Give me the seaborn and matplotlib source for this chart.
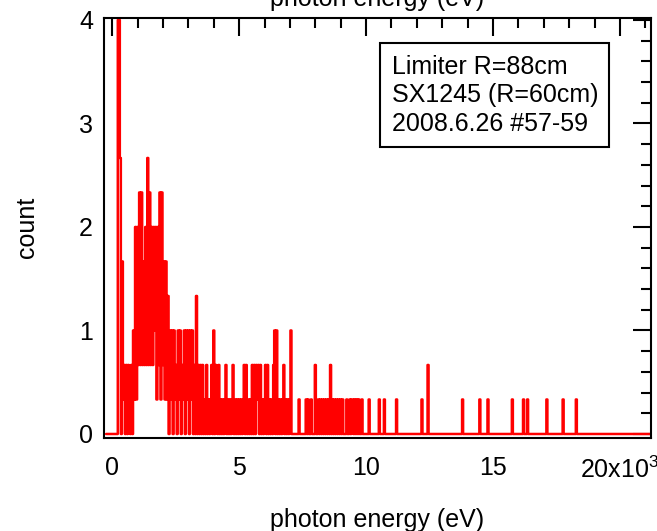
import numpy as np
import pandas as pd
import matplotlib
matplotlib.use("Agg")
import matplotlib.pyplot as plt
import seaborn as sns
from matplotlib.ticker import MultipleLocator

# ---------------- data (counts in units of 1/3) ----------------
bin_width_ev = 40
first_center_ev = -240
n_bins = 537

counts_peak = [0, 0, 0, 0, 0, 0, 0, 0, 0, 0, 0, 0,
               12, 12, 8, 0, 5, 1, 2, 0, 2, 0, 2, 1, 0, 2, 0, 3, 1, 6,
               1, 6, 2, 7, 2, 7, 2, 5, 2, 6, 2, 8, 2, 7, 2, 6, 2, 6, 3, 6,
               1, 6, 2, 7, 1, 7, 2, 5, 1, 5, 1]
counts_shoulder = [4, 0, 3, 1, 3, 0, 3, 1, 2, 0, 3, 1, 3, 0, 2, 1, 3, 0, 3, 1,
                   3, 0, 3, 1, 3, 0, 2, 0, 4, 0]
counts_plateau = [2, 0, 2, 0, 2, 0, 1, 0, 2, 0, 1, 0, 1, 2, 0, 3, 0, 2, 1, 0,
                  2, 0, 1, 0, 1, 0, 1, 2, 0, 1, 0, 1, 0, 1, 2, 0, 1, 0, 1, 0,
                  1, 0, 1, 0, 1, 2, 0, 2, 0, 1, 0, 1, 0, 2, 0, 2, 0, 2, 1, 2,
                  0, 2, 0, 1, 0, 1, 2, 0, 2, 0, 1, 0, 1, 0, 2, 3, 0, 3, 0, 1,
                  0, 1, 0, 1, 2, 0, 1, 0, 1, 0, 1, 3, 0]
counts_tail = [0, 0, 0, 0, 0, 0, 1, 0, 0, 0, 0, 0, 0,
               1, 0, 1, 0, 0, 1, 0, 0, 0, 2, 0, 0,
               1, 0, 1, 0, 1, 0, 1, 0, 1, 0, 1, 0, 2, 0, 1, 0, 1, 0, 1, 0,
               1, 0, 1, 0, 1, 0,
               0, 0, 1, 0, 0, 1, 0, 1, 1, 0, 1, 0, 1, 0, 1, 0, 0, 1, 0]
spike_energy_ev = [10118, 10512, 10709, 11181, 12205, 12441, 13819, 14488,
                   14803, 15748, 16181, 16378, 17126, 17756, 18268]
spike_counts = [1, 1, 1, 1, 1, 2, 1, 1, 1, 1, 1, 1, 1, 1, 1]

x_tick_values = [0, 5000, 10000, 15000, 20000]
x_tick_labels = ["0", "5", "10", "15", "20x10$^{3}$"]
y_tick_values = [0, 1, 2, 3, 4]
legend_lines = ["Limiter R=88cm", "SX1245 (R=60cm)", "2008.6.26 #57-59"]

# ---------------- assemble ----------------
thirds = np.zeros(n_bins)
dense = counts_peak + counts_shoulder + counts_plateau + counts_tail
thirds[:len(dense)] = dense
for e, k in zip(spike_energy_ev, spike_counts):
    thirds[int(round((e - first_center_ev) / bin_width_ev))] = k
energy = first_center_ev + bin_width_ev * np.arange(n_bins)
df = pd.DataFrame({"energy": energy, "count": thirds / 3.0})

# ---------------- style ----------------
sns.set_style("white")
plt.rcParams["font.family"] = ["Liberation Sans", "DejaVu Sans"]
plt.rcParams["mathtext.fontset"] = "custom"
plt.rcParams["mathtext.rm"] = "Liberation Sans"
plt.rcParams["mathtext.it"] = "Liberation Sans:italic"
plt.rcParams["mathtext.bf"] = "Liberation Sans:bold"
for key in ["text.color", "axes.labelcolor", "xtick.color", "ytick.color",
            "axes.edgecolor"]:
    plt.rcParams[key] = "black"

fig = plt.figure(figsize=(6.57, 5.31), dpi=100)
ax = fig.add_axes([103.5 / 657, (531 - 437.5) / 531,
                   (650.7 - 103.5) / 657, (437.5 - 18) / 531])

sns.lineplot(data=df, x="energy", y="count", ax=ax, color="#ff0000",
             linewidth=1.8, drawstyle="steps-mid", estimator=None,
             legend=False)

ax.set_xlim(-343, 21209)
ax.set_ylim(-0.034, 4.019)

ax.set_xticks(x_tick_values, x_tick_labels)
ax.set_yticks(y_tick_values, [str(v) for v in y_tick_values])
ax.xaxis.set_minor_locator(MultipleLocator(1000))
ax.yaxis.set_minor_locator(MultipleLocator(0.2))

ax.tick_params(which="both", direction="in", top=True, right=True,
               width=1.5, color="black", labelcolor="black")
ax.tick_params(which="major", length=13)
ax.tick_params(which="minor", length=7.5)
ax.tick_params(axis="x", which="major", labelsize=18, pad=13.5)
ax.tick_params(axis="y", which="major", labelsize=18, pad=7.6)

for s in ax.spines.values():
    s.set_linewidth(1.5)
    s.set_color("black")

ax.set_xlabel("photon energy (eV)", fontsize=18, labelpad=18.5,
              color="black")
ax.set_ylabel("count", fontsize=18, labelpad=29, color="black")
ax.text(0.5, 1.0 + 12 / 419.5, "photon energy (eV)", transform=ax.transAxes,
        ha="center", va="baseline", fontsize=18, color="black")

ax.text((391.7 - 103.5) / 547.2, (437.5 - 54.7) / 419.5,
        "\n".join(legend_lines), transform=ax.transAxes,
        ha="left", va="top", fontsize=18, linespacing=1.25, color="black",
        bbox=dict(boxstyle="square,pad=0.45", fc="white", ec="black",
                  lw=1.5))

fig.savefig("out.png", dpi=100)
